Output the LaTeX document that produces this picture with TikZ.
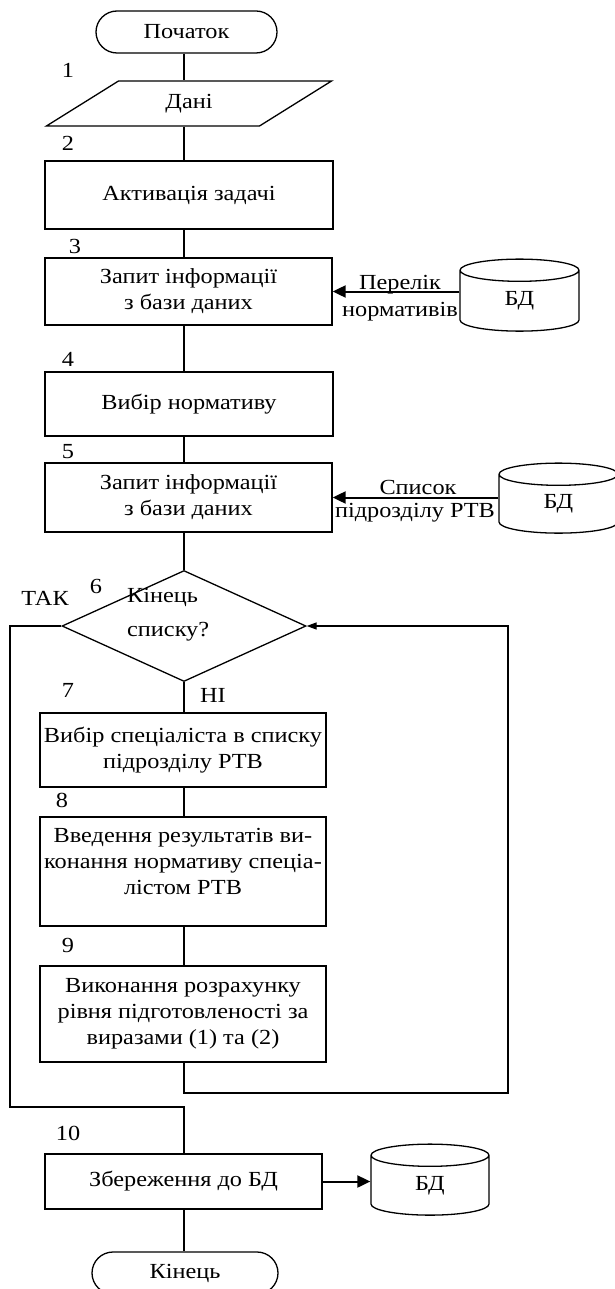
\documentclass[tikz,border=0pt]{standalone}
\usepackage{fontspec}
\setmainfont{Liberation Serif}[FakeStretch=1.13]
\usetikzlibrary{shapes.geometric,arrows.meta}
\tikzset{
  txt/.style={font=\fontsize{21.5}{26}\selectfont, align=center, inner sep=0pt},
  block/.style={txt, draw, line width=1.3pt, rectangle},
  term/.style={txt, draw, line width=1.3pt, rounded corners=21pt, minimum height=42pt},
  db/.style={txt, draw, line width=1.3pt, cylinder, shape border rotate=90, aspect=0.75, minimum width=119pt, minimum height=72pt},
  flow/.style={line width=1.3pt},
  feed/.style={line width=2pt, -{Triangle[length=13pt,width=12pt]}},
}
\begin{document}
\begin{tikzpicture}[x=1pt, y=-1pt]
\useasboundingbox (0,0) rectangle (615,1289);
\coordinate (spine) at (184,0);
% main chain
\node[term, minimum width=181pt] (start) at (186.5,32) {Початок};
\node[txt, draw, line width=1.3pt, trapezium, trapezium left angle=38, trapezium right angle=142, trapezium stretches=true, minimum width=288pt, minimum height=45pt] (data) at (189,103.5) {Дані};
\node[block, minimum width=288pt, minimum height=68pt] (act) at (189,195) {Активація задачі};
\node[block, minimum width=287pt, minimum height=67pt] (req1) at (188.5,291.5) {Запит інформації\\з бази даних};
\node[block, minimum width=288pt, minimum height=64pt] (norm) at (189,404) {Вибір нормативу};
\node[block, minimum width=287pt, minimum height=69pt] (req2) at (188.5,497.5) {Запит інформації\\з бази даних};
\node[draw, line width=1.3pt, diamond, inner sep=0pt, minimum width=244pt, minimum height=111pt] (ask) at (184,626) {};
\node[txt, align=left, anchor=west, font=\fontsize{21.5}{34}\selectfont] (asktxt) at (127,615) {Кінець\\списку?};
\node[block, minimum width=286pt, minimum height=74pt] (spec) at (183,750) {Вибір спеціаліста в списку\\підрозділу РТВ};
\node[block, minimum width=286pt, minimum height=109pt] (enter) at (183,871.5) {Введення результатів ви-\\конання нормативу спеціа-\\лістом РТВ\\[-6pt]\mbox{}};
\node[block, minimum width=286pt, minimum height=96pt] (calc) at (183,1014) {Виконання розрахунку\\рівня підготовленості за\\виразами (1) та (2)};
\node[block, minimum width=277pt, minimum height=55pt] (save) at (183.5,1181.5) {Збереження до БД};
\node[term, minimum width=186pt] (stop) at (185,1273) {Кінець};
% databases
\node[db] (db1) at (519.5,301) {БД};
\node[db, minimum height=70pt] (db2) at (558.5,504) {БД};
\node[db, minimum width=118pt, minimum height=71pt] (db3) at (430,1185.5) {БД};
% step numbers
\node[txt] (n1) at (68,70) {1};
\node[txt] (n2) at (68,143) {2};
\node[txt] (n3) at (75,246) {3};
\node[txt] (n4) at (68,359) {4};
\node[txt] (n5) at (68,452) {5};
\node[txt] (n6) at (96,586) {6};
\node[txt] (n7) at (68,690) {7};
\node[txt] (n8) at (62,800) {8};
\node[txt] (n9) at (68,945) {9};
\node[txt] (n10) at (68,1133) {10};
\node[txt] (yes) at (45,598) {ТАК};
\node[txt] (no) at (213,695) {НІ};
\node[txt] (l1a) at (400,285) {Перелік};
\node[txt] (l1b) at (400,312) {нормативів};
\node[txt] (l2a) at (418,487) {Список};
\node[txt] (l2b) at (415,513) {підрозділу РТВ};
\coordinate (lft) at (10,1107);
\coordinate (rgt) at (508,1093);
% connectors
\path[draw,flow] (start.south -| spine) -- (data.north -| spine);
\path[draw,flow] (data.south -| spine) -- (act.north -| spine);
\path[draw,flow] (act.south -| spine) -- (req1.north -| spine);
\path[draw,flow] (req1.south -| spine) -- (norm.north -| spine);
\path[draw,flow] (norm.south -| spine) -- (req2.north -| spine);
\path[draw,flow] (req2.south -| spine) -- (ask.north);
\path[draw,flow] (ask.south) -- (spec.north -| spine);
\path[draw,flow] (spec.south -| spine) -- (enter.north -| spine);
\path[draw,flow] (enter.south -| spine) -- (calc.north -| spine);
\path[draw,flow] (ask.west) -| (lft) -| (save.north -| spine);
\path[draw,flow,-{Triangle[length=10pt,width=7pt]}] (calc.south -| spine) |- (rgt) |- (ask.east);
\path[draw,flow] (save.south -| spine) -- (stop.north -| spine);
\path[draw,feed] (db1.west |- req1.east) -- (req1.east);
\path[draw,feed] (db2.west |- req2.east) -- (req2.east);
\path[draw,feed] (save.east) -- (save.east -| db3.west);
\end{tikzpicture}
\end{document}
